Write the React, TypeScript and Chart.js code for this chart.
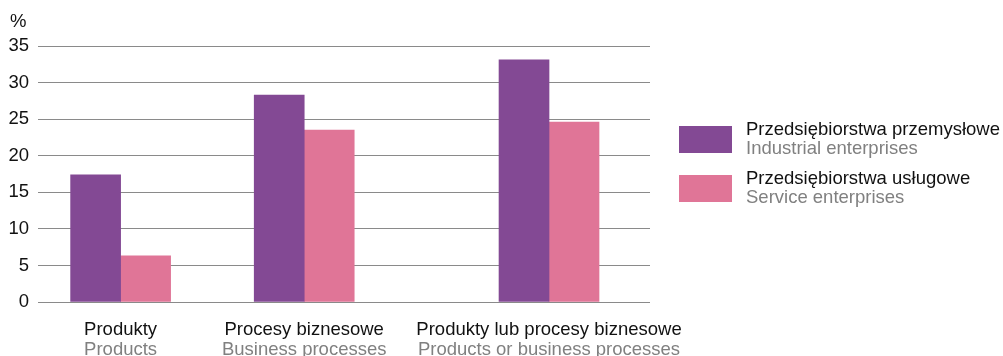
import React, { useEffect, useRef } from "react";
import { Chart, registerables } from "chart.js";

Chart.register(...registerables);

// ---- data ----
const categoriesPl = ["Produkty", "Procesy biznesowe", "Produkty lub procesy biznesowe"];
const categoriesEn = ["Products", "Business processes", "Products or business processes"];
const industrialValues = [17.4, 28.3, 33.1];
const serviceValues = [6.3, 23.5, 24.6];
const seriesPl = ["Przedsiębiorstwa przemysłowe", "Przedsiębiorstwa usługowe"];
const seriesEn = ["Industrial enterprises", "Service enterprises"];
const yUnit = "%";

// ---- layout / style ----
const groupSlots = [1.35, 4.35, 8.35];
const FONT = '"Liberation Sans", Arial, sans-serif';
const FS = 18.5;
const colors = ["#834994", "#e07597"];
const BLACK = "#111111";
const GRAY = "#808080";

const legendPlugin = {
  id: "customLegendAndUnit",
  afterDraw(chart: any) {
    const { ctx, chartArea } = chart;
    const xScale = chart.scales.x;
    ctx.save();
    ctx.font = `${FS}px ${FONT}`;
    ctx.textBaseline = "alphabetic";
    // unit label
    ctx.textAlign = "left";
    ctx.fillStyle = BLACK;
    ctx.fillText(yUnit, 10, 26.5);
    // english category labels (second line)
    ctx.textAlign = "center";
    ctx.fillStyle = GRAY;
    categoriesEn.forEach((t, i) => {
      ctx.fillText(t, xScale.getPixelForValue(groupSlots[i]), 355);
    });
    // legend
    ctx.textAlign = "left";
    const boxX = chartArea.right + 29;
    const firstTop = chartArea.top + 80;
    seriesPl.forEach((name, i) => {
      const top = firstTop + i * 49;
      ctx.fillStyle = colors[i];
      ctx.fillRect(boxX, top, 53, 27);
      ctx.fillStyle = BLACK;
      ctx.fillText(name, boxX + 67, top + 8.5);
      ctx.fillStyle = GRAY;
      ctx.fillText(seriesEn[i], boxX + 67, top + 28);
    });
    ctx.restore();
  },
};

export default function App() {
  const ref = useRef<HTMLCanvasElement>(null);
  useEffect(() => {
    document.body.style.margin = "0";
    const chart = new Chart(ref.current!, {
      type: "bar",
      data: {
        datasets: [
          {
            label: seriesPl[0],
            data: industrialValues.map((v, i) => ({ x: groupSlots[i], y: v })),
            backgroundColor: colors[0],
            barThickness: 50,
          },
          {
            label: seriesPl[1],
            data: serviceValues.map((v, i) => ({ x: groupSlots[i], y: v })),
            backgroundColor: colors[1],
            barThickness: 50,
          },
        ] as any,
      },
      options: {
        animation: false,
        responsive: false,
        layout: { padding: { left: 0, right: 353, top: 46, bottom: 0 } },
        plugins: { legend: { display: false }, tooltip: { enabled: false } },
        scales: {
          x: {
            type: "linear",
            position: "bottom",
            offset: false,
            min: 0,
            max: 10,
            grid: { display: false, drawTicks: false, offset: false },
            border: { display: false },
            afterBuildTicks: (axis: any) => {
              axis.ticks = groupSlots.map((v) => ({ value: v }));
            },
            afterFit: (axis: any) => {
              axis.height = 54;
            },
            ticks: {
              autoSkip: false,
              maxRotation: 0,
              minRotation: 0,
              padding: 19,
              color: BLACK,
              font: { family: FONT, size: FS, lineHeight: 1 },
              callback: (_v: any, i: number) => categoriesPl[i],
            },
          },
          y: {
            min: 0,
            max: 35,
            afterFit: (axis: any) => {
              axis.width = 38;
            },
            ticks: {
              stepSize: 5,
              padding: 9,
              color: BLACK,
              font: { family: FONT, size: FS },
            },
            grid: { color: "#8a8a8a", lineWidth: 1, drawTicks: false },
            border: { display: false },
          },
        },
      },
      plugins: [legendPlugin],
    } as any);
    return () => chart.destroy();
  }, []);
  return <canvas ref={ref} width={1003} height={356} style={{ display: "block" }} />;
}
